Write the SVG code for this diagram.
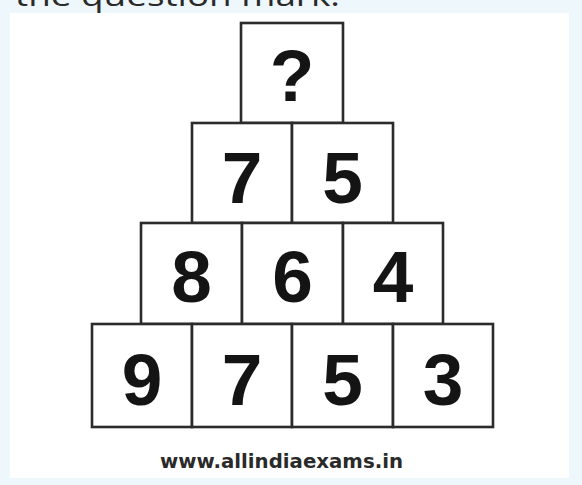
<svg xmlns="http://www.w3.org/2000/svg" width="582" height="485" viewBox="0 0 582 485">
<style>
.box{fill:#fff;stroke:#2b2b2b;stroke-width:2.6}
.d{font-family:"Liberation Sans",Arial,sans-serif;font-weight:bold;font-size:73px;fill:#141414;text-anchor:middle}
.hdr{font-family:"Open Sans","Liberation Sans",sans-serif;font-size:30px;fill:#2a2a2a}
.wm{font-family:"DejaVu Sans","Liberation Sans",sans-serif;font-weight:bold;font-size:19px;fill:#2a2a2a;text-anchor:middle}
</style>
<rect x="0" y="0" width="582" height="485" fill="#eef7fb"/>
<text class="hdr" x="15" y="6" textLength="325" lengthAdjust="spacingAndGlyphs">the question mark.</text>
<rect x="10" y="13" width="559" height="465" fill="#fff"/>
<g id="row1">
<g id="n-q"><rect class="box" x="241" y="23" width="102" height="100"/><text class="d" x="292" y="101">?</text></g>
</g>
<g id="row2">
<g id="n-7a"><rect class="box" x="192" y="123" width="100" height="100"/><text class="d" x="242" y="203">7</text></g>
<g id="n-5a"><rect class="box" x="292" y="123" width="101" height="100"/><text class="d" x="342.5" y="203">5</text></g>
</g>
<g id="row3">
<g id="n-8"><rect class="box" x="141" y="223" width="101" height="101"/><text class="d" x="191.5" y="302">8</text></g>
<g id="n-6"><rect class="box" x="242" y="223" width="101" height="101"/><text class="d" x="292.5" y="302">6</text></g>
<g id="n-4"><rect class="box" x="343" y="223" width="100" height="101"/><text class="d" x="393" y="302">4</text></g>
</g>
<g id="row4">
<g id="n-9"><rect class="box" x="92" y="324" width="100" height="103"/><text class="d" x="142" y="405">9</text></g>
<g id="n-7b"><rect class="box" x="192" y="324" width="100" height="103"/><text class="d" x="242" y="405">7</text></g>
<g id="n-5b"><rect class="box" x="292" y="324" width="101" height="103"/><text class="d" x="342.5" y="405">5</text></g>
<g id="n-3"><rect class="box" x="393" y="324" width="100" height="103"/><text class="d" x="443" y="405">3</text></g>
</g>
<g id="connectors"></g>
<text class="wm" x="281.5" y="468" textLength="243" lengthAdjust="spacingAndGlyphs">www.allindiaexams.in</text>
</svg>
